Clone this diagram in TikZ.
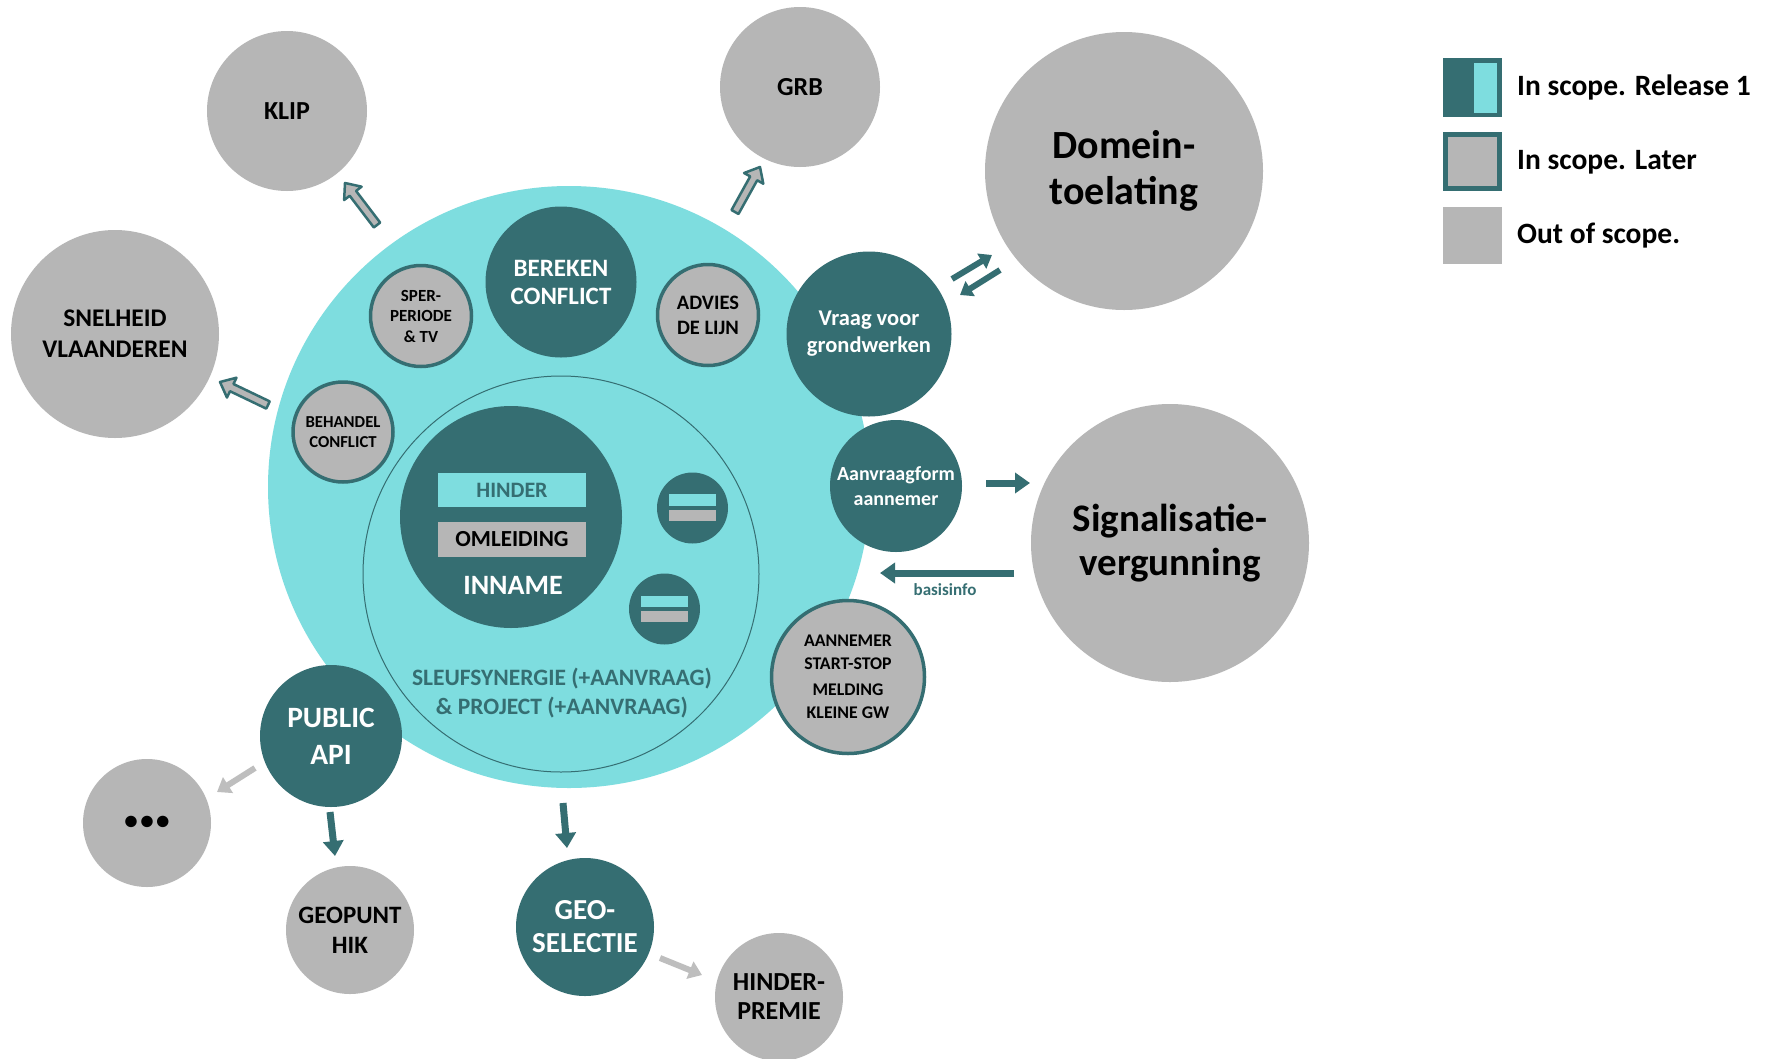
\documentclass[tikz,border=0pt]{standalone}
\usepackage{fontspec}
\setmainfont{Carlito}
\usetikzlibrary{arrows.meta,calc}
\definecolor{tealD}{RGB}{53,110,114}
\definecolor{cyanL}{RGB}{126,221,223}
\definecolor{grayC}{RGB}{182,182,182}
\definecolor{grayA}{RGB}{190,190,190}
\newcommand\fsz[2]{\fontsize{#1}{#2}\bfseries}
\newcommand\blockarr[2]{%
  \coordinate (#1-b) at ($(#2)!13pt!(#1)$);
  \draw[blockarrow] ($(#1)!4pt!90:(#2)$) -- ($(#1-b)!4pt!90:(#2)$) -- ($(#1-b)!11pt!90:(#2)$) -- (#2) -- ($(#1-b)!11pt!-90:(#2)$) -- ($(#1-b)!4pt!-90:(#2)$) -- ($(#1)!4pt!-90:(#2)$) -- cycle;}
\begin{document}
\begin{tikzpicture}[x=1pt,y=-1pt,
  outc/.style={circle,fill=grayC,inner sep=0pt,text=black,align=center},
  relc/.style={circle,fill=tealD,inner sep=0pt,text=white,align=center},
  latc/.style={circle,fill=grayC,draw=tealD,line width=3.5pt,inner sep=0pt,text=black,align=center},
  tarr/.style={draw=tealD,line width=7pt,-{Triangle[length=15pt,width=20pt]}},
  tarrs/.style={draw=tealD,line width=6pt,-{Triangle[length=12pt,width=17pt]}},
  garr/.style={draw=grayA,line width=6pt,-{Triangle[length=13pt,width=18pt]}},
  blockarrow/.style={fill=grayC,draw=tealD,line width=2.5pt,line join=round},
  bar/.style={inner sep=0pt,minimum width=47pt},
]
\fill[white] (0,0) rectangle (1773,1058);
\useasboundingbox (0,0) rectangle (1773,1058);

% main areas
\node[circle,fill=cyanL,inner sep=0pt,minimum size=602pt] (main) at (569,487) {};
\node[circle,draw=tealD,line width=1pt,inner sep=0pt,minimum size=396pt] (sleuf) at (561,574) {};
\node[text=tealD,align=center,font=\fsz{23.5}{29}] (sleuftxt) at (562,693) {SLEUFSYNERGIE (+AANVRAAG)\\\& PROJECT (+AANVRAAG)};

% inname
\node[relc,minimum size=222pt] (inname) at (511,517) {};
\node[fill=cyanL,minimum width=148pt,minimum height=34pt,inner sep=0pt,text=tealD,font=\fsz{22}{26}] (hinder) at (512,490) {HINDER};
\node[fill=grayC,minimum width=148pt,minimum height=35pt,inner sep=0pt,text=black,font=\fsz{23}{26}] (omleiding) at (512,539.5) {OMLEIDING};
\node[text=white,font=\fsz{28}{30}] (innametxt) at (513,585) {INNAME};

% small circles
\node[relc,minimum size=71pt] (s1) at (692.5,508) {};
\node[bar,fill=cyanL,minimum height=12pt] (s1a) at (692.5,500) {};
\node[bar,fill=grayC,minimum height=11pt] (s1b) at (692.5,515.5) {};
\node[relc,minimum size=71pt] (s2) at (664.5,609) {};
\node[bar,fill=cyanL,minimum height=11pt] (s2a) at (664.5,601.5) {};
\node[bar,fill=grayC,minimum height=11pt] (s2b) at (664.5,616.5) {};

% inner ring circles
\node[relc,minimum size=151pt,font=\fsz{25}{28}] (bereken) at (561,282) {BEREKEN\\CONFLICT};
\node[latc,minimum size=101pt,font=\fsz{17}{20.5}] (sper) at (421,316) {SPER-\\PERIODE\\\& TV};
\node[latc,minimum size=101pt,font=\fsz{20.5}{25}] (advies) at (708,315) {ADVIES\\DE LIJN};
\node[latc,minimum size=100pt,font=\fsz{16.7}{20}] (behandel) at (343,432) {BEHANDEL\\CONFLICT};
\node[relc,minimum size=165pt,font=\fsz{22.5}{27}] (vraag) at (869,334) {Vraag voor\\grondwerken};
\node[relc,minimum size=132pt,font=\fsz{20}{25}] (aanvraag) at (896,486) {Aanvraagform\\aannemer};
\node[latc,minimum size=153pt,font=\fsz{17.8}{22.5}] (aannemer) at (848,677) {AANNEMER\\START-STOP\\[4pt]MELDING\\KLEINE GW};
\node[relc,minimum size=142pt,font=\fsz{29.5}{37}] (api) at (331,736) {PUBLIC\\API};

% outer circles
\node[outc,minimum size=160pt,font=\fsz{26}{30}] (klip) at (287,111) {KLIP};
\node[outc,minimum size=160pt,font=\fsz{26}{30}] (grb) at (800,87) {GRB};
\node[outc,minimum size=208pt,font=\fsz{25.4}{31}] (snel) at (115,334) {SNELHEID\\VLAANDEREN};
\node[outc,minimum size=278pt,font=\fsz{40}{46}] (domein) at (1124,171) {Domein-\\toelating};
\node[outc,minimum size=278pt,font=\fsz{39}{44}] (signal) at (1170,543) {Signalisatie-\\vergunning};
\node[outc,minimum size=128pt,font=\fsz{27}{30}] (etc) at (147,823) {\textbullet\kern2.5pt\textbullet\kern2.5pt\textbullet};
\node[outc,minimum size=128pt,font=\fsz{25}{30}] (geopunt) at (350,930) {GEOPUNT\\HIK};
\node[relc,minimum size=138pt,font=\fsz{29}{33}] (geosel) at (585,927) {GEO-\\SELECTIE};
\node[outc,minimum size=128pt,font=\fsz{26}{29}] (premie) at (779,997) {HINDER-\\PREMIE};

% connectors
\coordinate (ka) at (377,225); \coordinate (kb) at (345,183);
\blockarr{ka}{kb}
\coordinate (ga) at (735,212); \coordinate (gb) at (760,167);
\blockarr{ga}{gb}
\coordinate (sa) at (268,405); \coordinate (sb) at (220,382);
\blockarr{sa}{sb}
\coordinate (d1a) at (952,279); \coordinate (d1b) at (992,255);
\coordinate (d2a) at (1000,270); \coordinate (d2b) at (960,295);
\draw[tarrs] (d1a) -- (d1b);
\draw[tarrs] (d2a) -- (d2b);
\coordinate (aa) at (986,483); \coordinate (ab) at (1030,483);
\draw[tarr] (aa) -- (ab);
\coordinate (ba) at (1014,573); \coordinate (bb) at (880,573);
\draw[tarr] (ba) -- (bb);
\node[text=tealD,font=\fsz{17}{20}] (basis) at (945,590) {basisinfo};
\coordinate (pa) at (330,812); \coordinate (pb) at (335,856);
\draw[tarr] (pa) -- (pb);
\coordinate (ma) at (563,803); \coordinate (mb) at (567,848);
\draw[tarr] (ma) -- (mb);
\coordinate (ea) at (255,768); \coordinate (eb) at (217,792);
\draw[garr] (ea) -- (eb);
\coordinate (ha) at (660,958); \coordinate (hb) at (702,975);
\draw[garr] (ha) -- (hb);

% legend
\node[fill=tealD,minimum width=59pt,minimum height=59pt,inner sep=0pt] (lg1) at (1472.5,87.5) {};
\node[fill=cyanL,minimum width=23pt,minimum height=50pt,inner sep=0pt] (lg1b) at (1485.5,88) {};
\node[fill=grayC,draw=tealD,line width=5pt,minimum width=54pt,minimum height=54pt,inner sep=0pt] (lg2) at (1472.5,161.5) {};
\node[fill=grayC,minimum width=59pt,minimum height=57pt,inner sep=0pt] (lg3) at (1472.5,235.5) {};
\node[anchor=base west,inner sep=0pt,font=\fsz{29.5}{32}] (lt1) at (1517,95) {In scope. Release 1};
\node[anchor=base west,inner sep=0pt,font=\fsz{29.5}{32}] (lt2) at (1517,169) {In scope. Later};
\node[anchor=base west,inner sep=0pt,font=\fsz{29.5}{32}] (lt3) at (1517,243) {Out of scope.};
\end{tikzpicture}
\end{document}
